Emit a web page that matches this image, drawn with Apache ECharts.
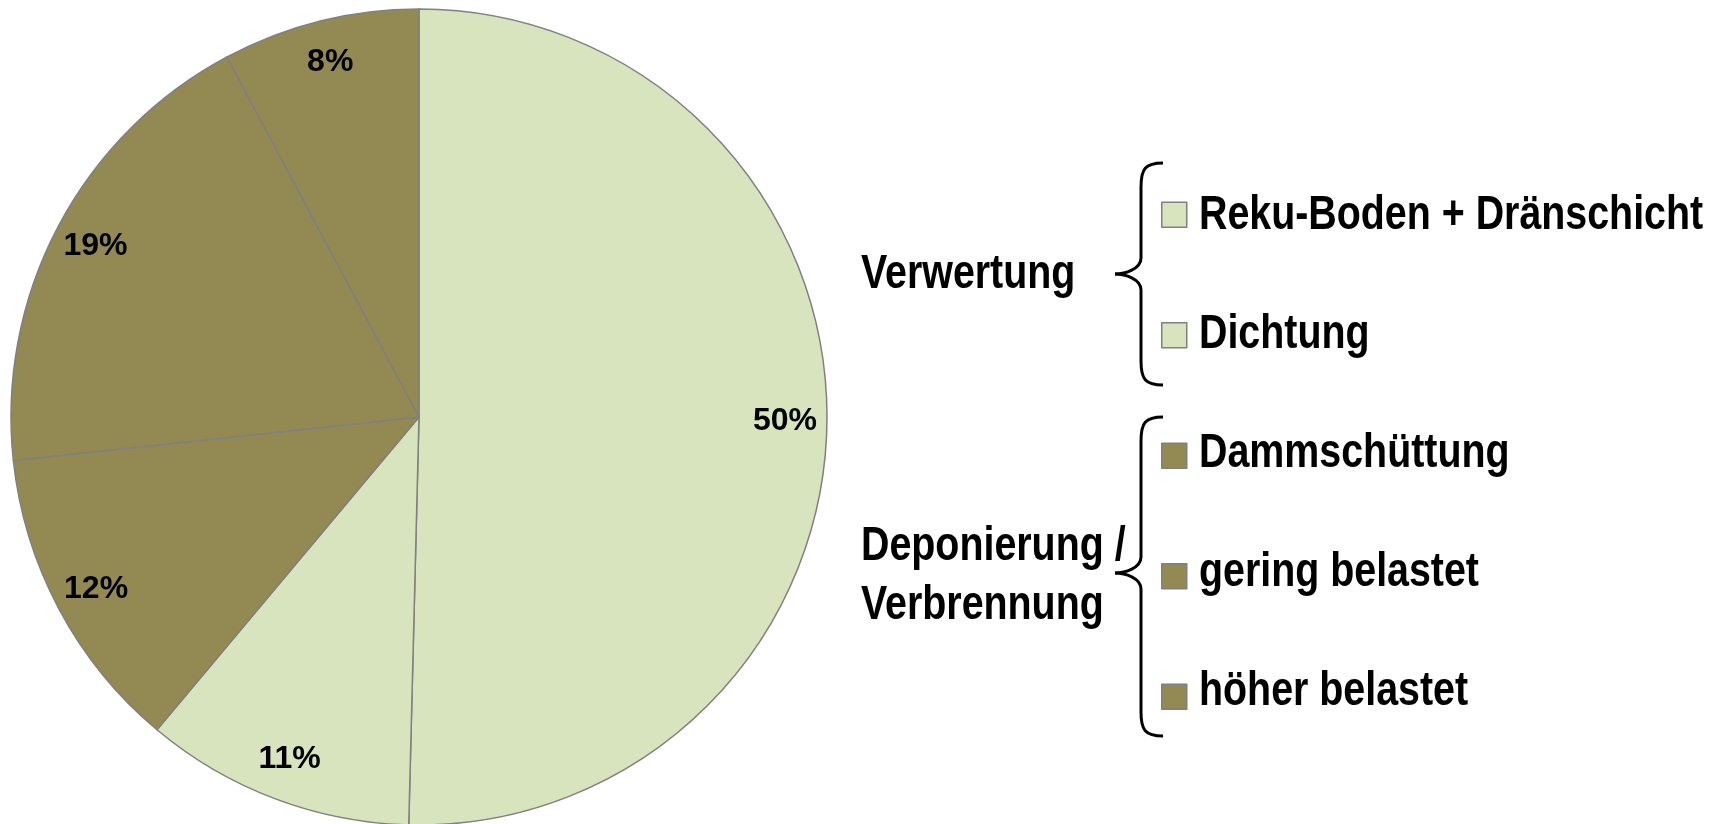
<!DOCTYPE html>
<html>
<head>
<meta charset="utf-8">
<script src="https://cdn.jsdelivr.net/npm/echarts@6/dist/echarts.min.js"></script>
<style>
  html, body { margin: 0; padding: 0; background: #ffffff; }
  #chart { width: 1715px; height: 824px; }
</style>
</head>
<body>
<div id="chart"></div>
<script>
// Material streams (share of total), clockwise from 12 o'clock
const categories = [
  'Reku-Boden + Dränschicht',
  'Dichtung',
  'Dammschüttung',
  'gering belastet',
  'höher belastet'
];
const shares = [50.4, 10.7, 12.2, 18.9, 7.8];
const groupOf = ['Verwertung', 'Verwertung', 'Deponierung', 'Deponierung', 'Deponierung'];
const groupColors = { 'Verwertung': '#D7E4BD', 'Deponierung': '#938953' };
const groupTitles = [['Verwertung'], ['Deponierung /', 'Verbrennung']];

const FONT = '"Liberation Sans", Arial, sans-serif';
const NARROW = 0.82;           // horizontal squeeze for a narrow bold face
const EDGE = '#808080';

const pieData = categories.map((name, i) => ({
  name: name,
  value: shares[i],
  itemStyle: { color: groupColors[groupOf[i]] }
}));
// same values, no fill: carries the percentage labels only
const labelData = categories.map((name, i) => ({ name: name, value: shares[i] }));

const R = 408;
const CENTER = [419, 417];

// legend rows
const LEG_TOP = 214, LEG_STEP = 119, LEG_TEXT_X = 1199;

function narrowText(str, x, y) {
  return {
    type: 'text', x: x, y: y, scaleX: NARROW, silent: true,
    style: {
      text: str, font: 'bold 48px ' + FONT, fill: '#000',
      textAlign: 'left', textVerticalAlign: 'middle'
    }
  };
}

// curly brace from y0 to y1 with its tip pointing left at yTip
function brace(y0, yTip, y1) {
  const xe = 1163, xv = 1141, xt = 1115;
  const st = { stroke: '#000', lineWidth: 3, fill: null };
  return [
    { type: 'bezierCurve', silent: true, style: st,
      shape: { x1: xe, y1: y0, cpx1: xv + 4, cpy1: y0, cpx2: xv, cpy2: y0 + 6, x2: xv, y2: y0 + 24 } },
    { type: 'line', silent: true, style: st,
      shape: { x1: xv, y1: y0 + 24, x2: xv, y2: yTip - 16 } },
    { type: 'bezierCurve', silent: true, style: st,
      shape: { x1: xv, y1: yTip - 16, cpx1: xv, cpy1: yTip - 5, cpx2: xt + 10, cpy2: yTip, x2: xt, y2: yTip } },
    { type: 'bezierCurve', silent: true, style: st,
      shape: { x1: xt, y1: yTip, cpx1: xt + 10, cpy1: yTip, cpx2: xv, cpy2: yTip + 5, x2: xv, y2: yTip + 16 } },
    { type: 'line', silent: true, style: st,
      shape: { x1: xv, y1: yTip + 16, x2: xv, y2: y1 - 24 } },
    { type: 'bezierCurve', silent: true, style: st,
      shape: { x1: xv, y1: y1 - 24, cpx1: xv, cpy1: y1 - 6, cpx2: xv + 4, cpy2: y1, x2: xe, y2: y1 } }
  ];
}

const graphics = []
  .concat(categories.map((c, i) => narrowText(c, LEG_TEXT_X, LEG_TOP + 2 + i * LEG_STEP)))
  .concat([
    narrowText(groupTitles[0][0], 861, 275),
    narrowText(groupTitles[1][0], 861, 547),
    narrowText(groupTitles[1][1], 861, 606)
  ])
  .concat(brace(163, 274, 385))
  .concat(brace(417, 573, 736));

const chart = echarts.init(document.getElementById('chart'), null, { renderer: 'canvas' });

chart.setOption({
  backgroundColor: '#ffffff',
  animation: false,
  legend: {
    orient: 'vertical',
    left: 1161,
    top: LEG_TOP - 12.5,
    padding: 0,
    itemWidth: 25,
    itemHeight: 25,
    itemGap: LEG_STEP - 25,
    icon: 'rect',
    selectedMode: false,
    formatter: () => '',
    itemStyle: { borderColor: EDGE, borderWidth: 1.5 },
    textStyle: { fontSize: 12, lineHeight: 25, padding: 0 },
    data: categories
  },
  series: [
    {
      type: 'pie',
      center: CENTER,
      radius: R,
      startAngle: 90,
      clockwise: true,
      avoidLabelOverlap: false,
      label: { show: false },
      labelLine: { show: false },
      emphasis: { disabled: true },
      itemStyle: { borderColor: EDGE, borderWidth: 1.5 },
      data: pieData
    },
    {
      // percentage labels placed in the outer ring of the pie
      type: 'pie',
      center: CENTER,
      radius: [318, R],
      startAngle: 90,
      clockwise: true,
      silent: true,
      z: 3,
      percentPrecision: 0,
      avoidLabelOverlap: false,
      legendHoverLink: false,
      emphasis: { disabled: true },
      itemStyle: { color: 'rgba(0,0,0,0)', borderWidth: 0 },
      labelLine: { show: false },
      label: {
        show: true,
        position: 'inside',
        formatter: '{d}%',
        fontFamily: FONT,
        fontWeight: 'bold',
        fontSize: 32,
        color: '#000000'
      },
      data: labelData
    }
  ],
  graphic: graphics
});
</script>
</body>
</html>
